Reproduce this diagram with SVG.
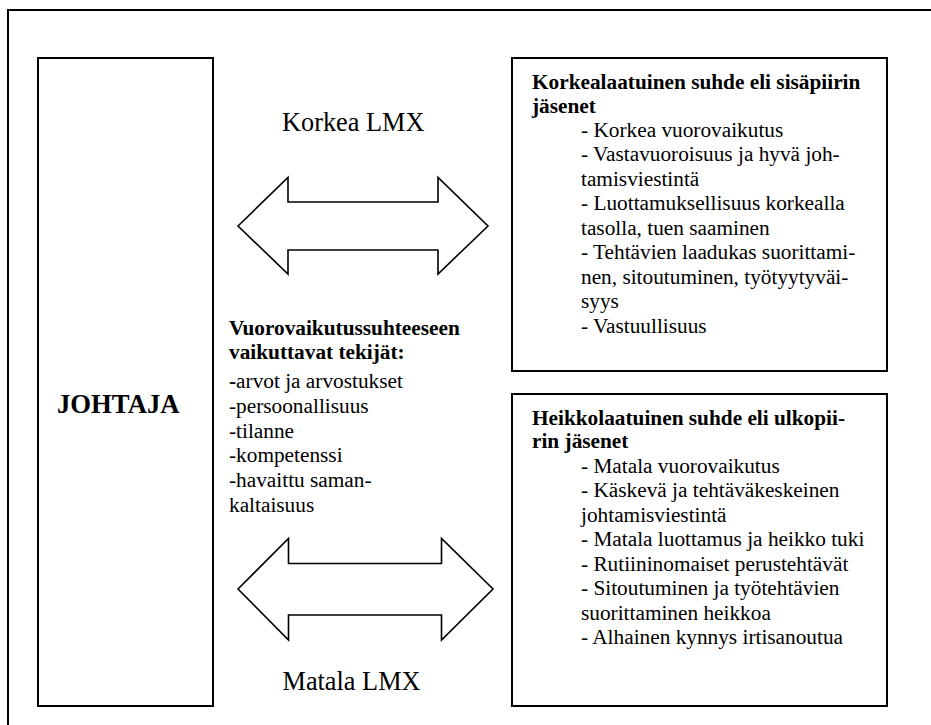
<svg xmlns="http://www.w3.org/2000/svg" width="931" height="725" viewBox="0 0 931 725">
<style>
.box{fill:#fff;stroke:#000;stroke-width:2}
.arrow{fill:#fff;stroke:#000;stroke-width:1.6;stroke-linejoin:miter}
text{font-family:"Liberation Serif","Times New Roman",serif;fill:#000}
.t{font-size:21.3px}
.b{font-weight:bold}
.lbl{font-size:26.3px}
</style>
<rect width="931" height="725" fill="#fff"/>
<path d="M8,725 V10 H931" fill="none" stroke="#000" stroke-width="2"/>
<g id="johtaja">
<rect class="box" x="38" y="58" width="175" height="648"/>
<text class="b" x="57" y="413" font-size="26.7px">JOHTAJA</text>
</g>
<g id="korkea">
<rect class="box" x="512" y="58" width="375" height="313"/>
<text class="t b" x="532" y="89.3">Korkealaatuinen suhde eli sisäpiirin</text>
<text class="t b" x="532" y="112.7">jäsenet</text>
<text class="t" x="581" y="136.7">- Korkea vuorovaikutus</text>
<text class="t" x="581" y="161.2">- Vastavuoroisuus ja hyvä joh-</text>
<text class="t" x="581" y="185.7">tamisviestintä</text>
<text class="t" x="581" y="210.2">- Luottamuksellisuus korkealla</text>
<text class="t" x="581" y="234.7">tasolla, tuen saaminen</text>
<text class="t" x="581" y="259.2">- Tehtävien laadukas suorittami-</text>
<text class="t" x="581" y="283.7">nen, sitoutuminen, työtyytyväi-</text>
<text class="t" x="581" y="308.2">syys</text>
<text class="t" x="581" y="332.7">- Vastuullisuus</text>
</g>
<g id="heikko">
<rect class="box" x="512" y="394" width="375" height="312"/>
<text class="t b" x="532" y="425">Heikkolaatuinen suhde eli ulkopii-</text>
<text class="t b" x="532" y="448.4">rin jäsenet</text>
<text class="t" x="581" y="472.5">- Matala vuorovaikutus</text>
<text class="t" x="581" y="497">- Käskevä ja tehtäväkeskeinen</text>
<text class="t" x="581" y="521.5">johtamisviestintä</text>
<text class="t" x="581" y="546">- Matala luottamus ja heikko tuki</text>
<text class="t" x="581" y="570.5">- Rutiininomaiset perustehtävät</text>
<text class="t" x="581" y="595">- Sitoutuminen ja työtehtävien</text>
<text class="t" x="581" y="619.5">suorittaminen heikkoa</text>
<text class="t" x="581" y="644">- Alhainen kynnys irtisanoutua</text>
</g>
<g id="tekijat">
<text class="t b" x="229" y="335">Vuorovaikutussuhteeseen</text>
<text class="t b" x="229" y="358.5">vaikuttavat tekijät:</text>
<text class="t" x="229" y="388"><tspan class="b">-</tspan>arvot ja arvostukset</text>
<text class="t" x="229" y="412.8">-persoonallisuus</text>
<text class="t" x="229" y="437.6">-tilanne</text>
<text class="t" x="229" y="462.4">-kompetenssi</text>
<text class="t" x="229" y="487.2">-havaittu saman-</text>
<text class="t" x="229" y="512">kaltaisuus</text>
</g>
<g id="connectors">
<polygon class="arrow" points="238,226 288,177.5 288,202 438,202 438,177.5 488,226 438,274 438,250 288,250 288,274"/>
<polygon class="arrow" points="238,589 288.5,538.5 288.5,563.5 441.5,563.5 441.5,538.5 493,589 441.5,640 441.5,615 288.5,615 288.5,640"/>
<text class="lbl" x="282" y="131">Korkea LMX</text>
<text class="lbl" x="282.5" y="690">Matala LMX</text>
</g>
</svg>
